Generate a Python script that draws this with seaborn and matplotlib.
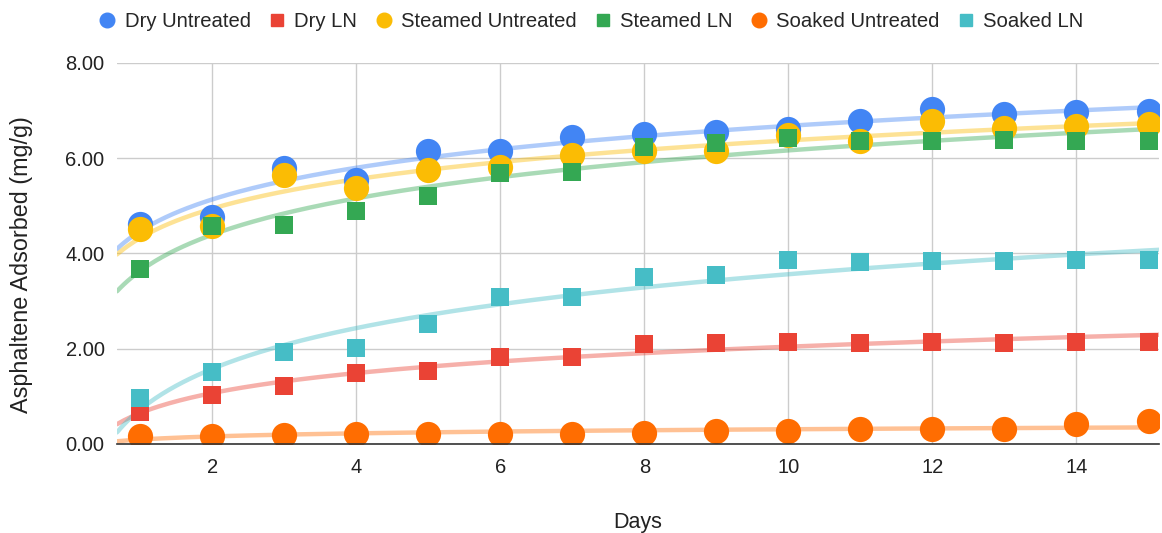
import numpy as np
import pandas as pd
import matplotlib
matplotlib.use("Agg")
import matplotlib.pyplot as plt
from matplotlib.lines import Line2D
import seaborn as sns

days = [1, 2, 3, 4, 5, 6, 7, 8, 9, 10, 11, 12, 13, 14, 15]

dry_untreated = [4.62, 4.77, 5.79, 5.55, 6.15, 6.15, 6.44, 6.51, 6.54, 6.61, 6.77, 7.03, 6.93, 6.96, 6.98]
dry_ln = [0.67, 1.03, 1.21, 1.48, 1.53, 1.83, 1.82, 2.09, 2.13, 2.14, 2.12, 2.15, 2.12, 2.15, 2.15]
steamed_untreated = [4.52, 4.57, 5.64, 5.38, 5.75, 5.81, 6.07, 6.16, 6.16, 6.48, 6.36, 6.77, 6.63, 6.67, 6.72]
steamed_ln = [3.68, 4.57, 4.59, 4.89, 5.21, 5.68, 5.71, 6.23, 6.32, 6.42, 6.37, 6.35, 6.39, 6.37, 6.37]
soaked_untreated = [0.17, 0.17, 0.18, 0.20, 0.21, 0.22, 0.22, 0.24, 0.28, 0.28, 0.31, 0.31, 0.32, 0.43, 0.48]
soaked_ln = [0.97, 1.51, 1.93, 2.01, 2.51, 3.09, 3.09, 3.50, 3.54, 3.87, 3.82, 3.85, 3.84, 3.87, 3.86]

series_names = ["Dry Untreated", "Dry LN", "Steamed Untreated", "Steamed LN",
                "Soaked Untreated", "Soaked LN"]
series_values = [dry_untreated, dry_ln, steamed_untreated, steamed_ln,
                 soaked_untreated, soaked_ln]
series_colors = ["#4285F4", "#EA4335", "#FBBC04", "#34A853", "#FF6D01", "#46BDC6"]
series_markers = ["o", "s", "o", "s", "o", "s"]

y_ticks = [0, 2, 4, 6, 8]
x_ticks = [2, 4, 6, 8, 10, 12, 14]

sns.set_theme(style="white")
plt.rcParams["font.family"] = ["Liberation Sans", "DejaVu Sans"]

fig = plt.figure(figsize=(11.62, 5.33), dpi=100)
ax = fig.add_axes([0.1007, 0.167, 0.897, 0.715])

xmin, xmax = 0.68, 15.15
ax.set_xlim(xmin, xmax)
ax.set_ylim(0, 8)

# logarithmic trendlines fitted to each series
xs = np.linspace(xmin, xmax, 300)
for vals, col in zip(series_values, series_colors):
    a, b = np.polyfit(np.log(days), vals, 1)
    sns.lineplot(x=xs, y=a * np.log(xs) + b, ax=ax, color=col, alpha=0.42,
                 linewidth=3.2, zorder=2, legend=False)

# data points
for name, vals, col, mk in zip(series_names, series_values, series_colors, series_markers):
    df = pd.DataFrame({"Days": days, "value": vals})
    size = 330 if mk == "o" else 165
    sns.scatterplot(data=df, x="Days", y="value", ax=ax, color=col, marker=mk,
                    s=size, linewidth=0, zorder=3, legend=False)

ax.set_xticks(x_ticks)
ax.set_yticks(y_ticks)
ax.set_yticklabels([f"{v:.2f}" for v in y_ticks])
ax.tick_params(axis="both", labelsize=14.5, colors="#222222", length=0)
ax.tick_params(axis="x", pad=10)
ax.tick_params(axis="y", pad=9)
ax.grid(True, color="#cccccc", linewidth=1)
ax.set_axisbelow(True)
for side in ["top", "right", "left"]:
    ax.spines[side].set_visible(False)
ax.spines["bottom"].set_color("#333333")
ax.spines["bottom"].set_linewidth(1.2)
ax.spines["bottom"].set_zorder(4)

ax.set_xlabel("Days", fontsize=15.5, color="#222222", labelpad=25)
ax.set_ylabel("Asphaltene Adsorbed (mg/g)", fontsize=16.8, color="#222222")
ax.yaxis.set_label_coords(-0.0806, 0.47)

handles = [Line2D([0], [0], marker=mk, linestyle="none", color=col,
                  markersize=10.5 if mk == "o" else 8)
           for col, mk in zip(series_colors, series_markers)]
fig.legend(handles, series_names, loc="center", bbox_to_anchor=(0.508, 0.959),
           ncol=6, frameon=False, fontsize=14.6, handletextpad=0.35,
           columnspacing=0.8, handlelength=1.0, borderaxespad=0)

fig.savefig("out.png", dpi=100)
